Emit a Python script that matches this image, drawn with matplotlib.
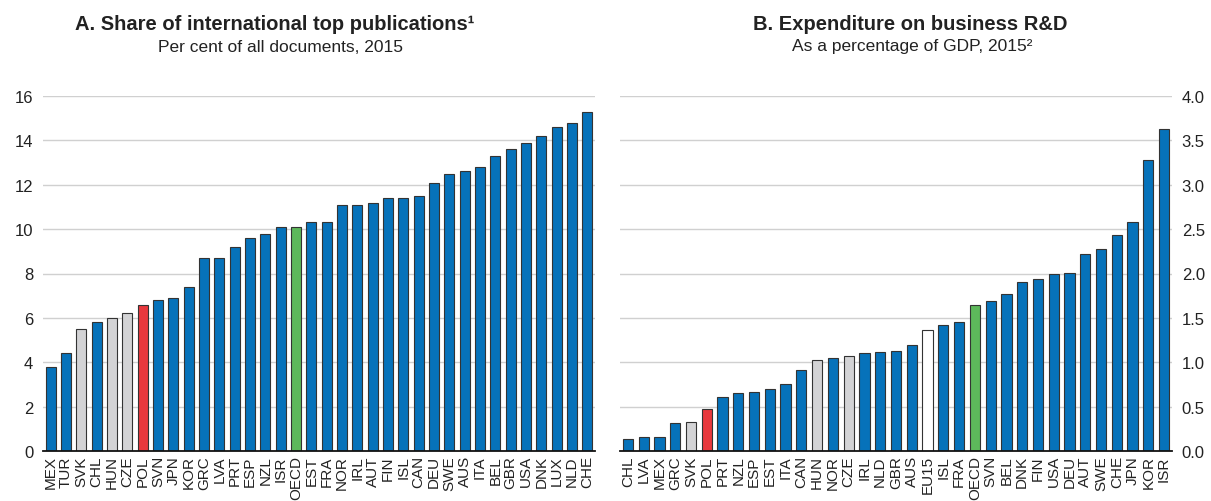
import matplotlib
matplotlib.use("Agg")
import matplotlib.pyplot as plt

plt.rcParams["font.family"] = ["Liberation Sans", "DejaVu Sans"]

# Panel A: share of international top publications, per cent, 2015
pub_countries = ["MEX", "TUR", "SVK", "CHL", "HUN", "CZE", "POL", "SVN", "JPN", "KOR",
                 "GRC", "LVA", "PRT", "ESP", "NZL", "ISR", "OECD", "EST", "FRA", "NOR",
                 "IRL", "AUT", "FIN", "ISL", "CAN", "DEU", "SWE", "AUS", "ITA", "BEL",
                 "GBR", "USA", "DNK", "LUX", "NLD", "CHE"]
pub_share = [3.8, 4.4, 5.5, 5.8, 6.0, 6.2, 6.6, 6.8, 6.9, 7.4,
             8.7, 8.7, 9.2, 9.6, 9.8, 10.1, 10.1, 10.3, 10.3, 11.1,
             11.1, 11.2, 11.4, 11.4, 11.5, 12.1, 12.5, 12.6, 12.8, 13.3,
             13.6, 13.9, 14.2, 14.6, 14.8, 15.3]

# Panel B: business R&D expenditure, % of GDP, 2015
berd_countries = ["CHL", "LVA", "MEX", "GRC", "SVK", "POL", "PRT", "NZL", "ESP", "EST",
                  "ITA", "CAN", "HUN", "NOR", "CZE", "IRL", "NLD", "GBR", "AUS", "EU15",
                  "ISL", "FRA", "OECD", "SVN", "BEL", "DNK", "FIN", "USA", "DEU", "AUT",
                  "SWE", "CHE", "JPN", "KOR", "ISR"]
berd_gdp = [0.13, 0.16, 0.16, 0.32, 0.33, 0.47, 0.61, 0.65, 0.66, 0.70,
            0.75, 0.91, 1.02, 1.05, 1.07, 1.10, 1.12, 1.13, 1.19, 1.36,
            1.42, 1.45, 1.65, 1.69, 1.77, 1.90, 1.94, 2.00, 2.01, 2.22,
            2.28, 2.43, 2.58, 3.28, 3.63]

BLUE = "#0672BA"
RED = "#E8383D"
GREEN = "#5DB85B"
GREY = "#D3D3D5"
WHITE = "#FFFFFF"

special = {"POL": RED, "OECD": GREEN, "SVK": GREY, "HUN": GREY, "CZE": GREY, "EU15": WHITE}


def bar_colors(labels):
    return [special.get(c, BLUE) for c in labels]


def draw_panel(ax, labels, values, ylim, yticks, fmt, right=False):
    x = range(len(labels))
    ax.bar(x, values, width=0.65, color=bar_colors(labels),
           edgecolor="#333333", linewidth=0.8, zorder=3)
    ax.set_xlim(-0.5, len(labels) - 0.5)
    ax.set_ylim(*ylim)
    ax.set_yticks(yticks)
    ax.set_yticklabels([fmt.format(v) for v in yticks])
    ax.set_xticks(list(x))
    ax.set_xticklabels(labels, rotation=90, fontsize=11)
    ax.grid(axis="y", color="#D0D0D0", linewidth=1.0, zorder=0)
    ax.set_axisbelow(True)
    for side in ("top", "left", "right"):
        ax.spines[side].set_visible(False)
    ax.spines["bottom"].set_color("#111111")
    ax.spines["bottom"].set_linewidth(1.3)
    ax.spines["bottom"].set_zorder(4)
    ax.tick_params(axis="both", length=0, colors="#222222")
    ax.tick_params(axis="y", labelsize=12, pad=7)
    ax.tick_params(axis="x", pad=3)
    if right:
        ax.yaxis.tick_right()


fig = plt.figure(figsize=(12.11, 5.02), dpi=100)
ax_a = fig.add_axes([43 / 1211, 1 - 452 / 502, 552 / 1211, 355 / 502])
ax_b = fig.add_axes([620 / 1211, 1 - 452 / 502, 552 / 1211, 355 / 502])

draw_panel(ax_a, pub_countries, pub_share, (0, 16), list(range(0, 17, 2)), "{:d}")
draw_panel(ax_b, berd_countries, berd_gdp, (0, 4.0),
           [0.0, 0.5, 1.0, 1.5, 2.0, 2.5, 3.0, 3.5, 4.0], "{:.1f}", right=True)

fig.text(275 / 1211, 1 - 25 / 502, "A. Share of international top publications¹",
         ha="center", va="center", fontsize=14.5, fontweight="bold", color="#222222")
fig.text(280 / 1211, 1 - 47 / 502, "Per cent of all documents, 2015",
         ha="center", va="center", fontsize=12.5, color="#222222")
fig.text(910 / 1211, 1 - 25 / 502, "B. Expenditure on business R&D",
         ha="center", va="center", fontsize=14.5, fontweight="bold", color="#222222")
fig.text(912 / 1211, 1 - 47 / 502, "As a percentage of GDP, 2015²",
         ha="center", va="center", fontsize=12.5, color="#222222")

fig.savefig("out.png", dpi=100)
